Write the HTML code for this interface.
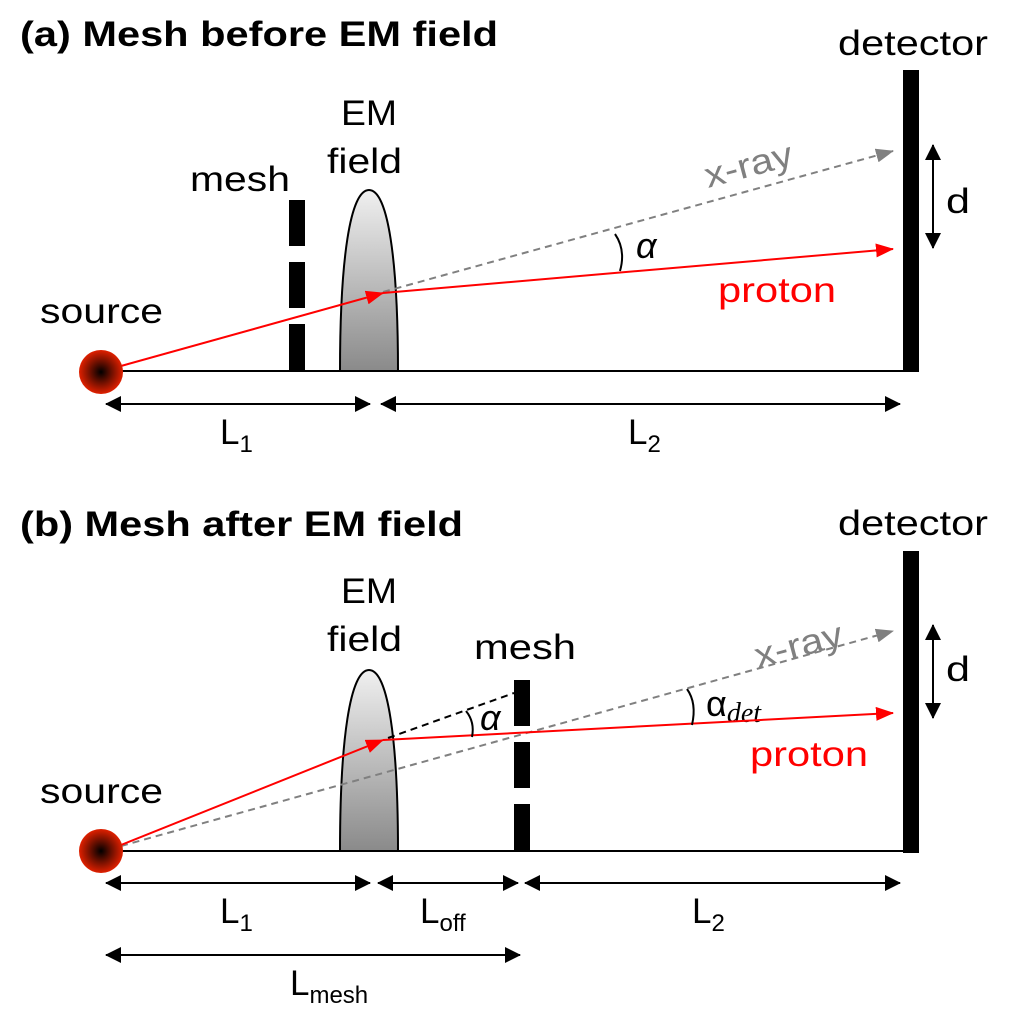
<!DOCTYPE html>
<html><head><meta charset="utf-8"><style>body{margin:0;background:#fff}svg{display:block}text{font-family:"Liberation Sans",Arial,sans-serif}</style></head><body>
<svg width="1012" height="1012" viewBox="0 0 1012 1012" xmlns="http://www.w3.org/2000/svg">
<defs>
<linearGradient id="g" x1="0" y1="0" x2="0" y2="1"><stop offset="0" stop-color="#f0f0f0"/><stop offset="1" stop-color="#8a8a8a"/></linearGradient>
<radialGradient id="s"><stop offset="0" stop-color="#000"/><stop offset="1" stop-color="#e02000"/></radialGradient>
<marker id="ar" markerWidth="18" markerHeight="14" refX="17" refY="7" orient="auto" markerUnits="userSpaceOnUse"><path d="M0,0L18,7L0,14Z" fill="red"/></marker>
<marker id="ag" markerWidth="18" markerHeight="14" refX="17" refY="7" orient="auto" markerUnits="userSpaceOnUse"><path d="M0,0L18,7L0,14Z" fill="#808080"/></marker>
<marker id="ab" markerWidth="16" markerHeight="16" refX="15" refY="8" orient="auto-start-reverse" markerUnits="userSpaceOnUse"><path d="M0,0L16,8L0,16Z" fill="#000"/></marker>
</defs>
<g font-size="35" font-weight="bold"><text x="20" y="46" textLength="478" lengthAdjust="spacingAndGlyphs">(a) Mesh before EM field</text><text x="20" y="536" textLength="443" lengthAdjust="spacingAndGlyphs">(b) Mesh after EM field</text></g>
<g font-size="35">
<text x="838" y="55" textLength="150" lengthAdjust="spacingAndGlyphs">detector</text><text x="838" y="535" textLength="150" lengthAdjust="spacingAndGlyphs">detector</text>
<text x="190" y="191" textLength="100" lengthAdjust="spacingAndGlyphs">mesh</text>
<text x="341" y="125" textLength="56" lengthAdjust="spacingAndGlyphs">EM</text><text x="327" y="173" textLength="75" lengthAdjust="spacingAndGlyphs">field</text>
<text x="40" y="323" textLength="123" lengthAdjust="spacingAndGlyphs">source</text><text x="40" y="803" textLength="123" lengthAdjust="spacingAndGlyphs">source</text>
<text x="341" y="603" textLength="56" lengthAdjust="spacingAndGlyphs">EM</text><text x="327" y="651" textLength="75" lengthAdjust="spacingAndGlyphs">field</text>
<text x="474" y="659" textLength="102" lengthAdjust="spacingAndGlyphs">mesh</text>
<text x="946" y="213" textLength="24" lengthAdjust="spacingAndGlyphs">d</text><text x="946" y="681" textLength="24" lengthAdjust="spacingAndGlyphs">d</text>
<text x="718" y="302" fill="red" textLength="118" lengthAdjust="spacingAndGlyphs">proton</text><text x="750" y="766" fill="red" textLength="118" lengthAdjust="spacingAndGlyphs">proton</text>
<text x="708" y="188" fill="#808080" transform="rotate(-15 708 188)" textLength="90" lengthAdjust="spacingAndGlyphs">x-ray</text>
<text x="758" y="668" fill="#808080" transform="rotate(-15 758 668)" textLength="90" lengthAdjust="spacingAndGlyphs">x-ray</text>
<text x="220" y="444">L<tspan font-size="24" dy="8">1</tspan></text>
<text x="628" y="444">L<tspan font-size="24" dy="8">2</tspan></text>
<text x="220" y="923">L<tspan font-size="24" dy="8">1</tspan></text>
<text x="420" y="923">L<tspan font-size="24" dy="8">off</tspan></text>
<text x="692" y="923">L<tspan font-size="24" dy="8">2</tspan></text>
<text x="290" y="995">L<tspan font-size="24" dy="8">mesh</tspan></text>
</g>
<g font-family="Liberation Serif,serif" font-style="italic" font-size="36">
<text x="636" y="258">α</text><text x="480" y="730">α</text>
<text x="706" y="716" font-family="Liberation Sans,sans-serif" font-style="normal">α<tspan font-family="Liberation Serif,serif" font-style="italic" font-size="28" dy="6">det</tspan></text>
</g>
<!-- panel a -->
<line x1="100" y1="371" x2="905" y2="371" stroke="#000" stroke-width="2"/>
<rect x="289" y="200" width="16" height="46"/><rect x="289" y="262" width="16" height="46"/><rect x="289" y="324" width="16" height="47"/>
<path d="M340,371 C340,260 350,190 369,190 C388,190 398,260 398,371Z" fill="url(#g)" stroke="#000" stroke-width="2"/>
<rect x="903" y="70" width="16" height="302"/>
<line x1="383" y1="292" x2="893" y2="151" stroke="#808080" stroke-width="2" stroke-dasharray="7,5" marker-end="url(#ag)"/>
<line x1="121" y1="366" x2="383" y2="293" stroke="red" stroke-width="2" marker-end="url(#ar)"/>
<line x1="383" y1="293" x2="893" y2="249" stroke="red" stroke-width="2" marker-end="url(#ar)"/>
<path d="M615,234 Q626,250 620,271" fill="none" stroke="#000" stroke-width="2"/>
<line x1="933" y1="145" x2="933" y2="248" stroke="#000" stroke-width="2" marker-start="url(#ab)" marker-end="url(#ab)"/>
<line x1="106" y1="404" x2="370" y2="404" stroke="#000" stroke-width="2" marker-start="url(#ab)" marker-end="url(#ab)"/>
<line x1="381" y1="404" x2="900" y2="404" stroke="#000" stroke-width="2" marker-start="url(#ab)" marker-end="url(#ab)"/>
<circle cx="101" cy="372" r="22" fill="url(#s)"/>
<!-- panel b -->
<line x1="100" y1="851" x2="905" y2="851" stroke="#000" stroke-width="2"/>
<path d="M340,851 C340,740 350,670 369,670 C388,670 398,740 398,851Z" fill="url(#g)" stroke="#000" stroke-width="2"/>
<rect x="514" y="680" width="16" height="46"/><rect x="514" y="742" width="16" height="46"/><rect x="514" y="804" width="16" height="47"/>
<rect x="903" y="551" width="16" height="302"/>
<line x1="121" y1="846" x2="893" y2="631" stroke="#808080" stroke-width="2" stroke-dasharray="7,5" marker-end="url(#ag)"/>
<line x1="388" y1="738" x2="514" y2="693" stroke="#000" stroke-width="2" stroke-dasharray="7,5"/>
<line x1="121" y1="845" x2="383" y2="740" stroke="red" stroke-width="2" marker-end="url(#ar)"/>
<line x1="383" y1="740" x2="893" y2="713" stroke="red" stroke-width="2" marker-end="url(#ar)"/>
<path d="M466,711 Q475,722 472,737" fill="none" stroke="#000" stroke-width="2"/>
<path d="M687,689 Q697,703 692,725" fill="none" stroke="#000" stroke-width="2"/>
<line x1="933" y1="625" x2="933" y2="718" stroke="#000" stroke-width="2" marker-start="url(#ab)" marker-end="url(#ab)"/>
<line x1="106" y1="883" x2="370" y2="883" stroke="#000" stroke-width="2" marker-start="url(#ab)" marker-end="url(#ab)"/>
<line x1="378" y1="883" x2="518" y2="883" stroke="#000" stroke-width="2" marker-start="url(#ab)" marker-end="url(#ab)"/>
<line x1="525" y1="883" x2="900" y2="883" stroke="#000" stroke-width="2" marker-start="url(#ab)" marker-end="url(#ab)"/>
<line x1="106" y1="955" x2="520" y2="955" stroke="#000" stroke-width="2" marker-start="url(#ab)" marker-end="url(#ab)"/>
<circle cx="101" cy="851" r="22" fill="url(#s)"/>
</svg>
</body></html>
